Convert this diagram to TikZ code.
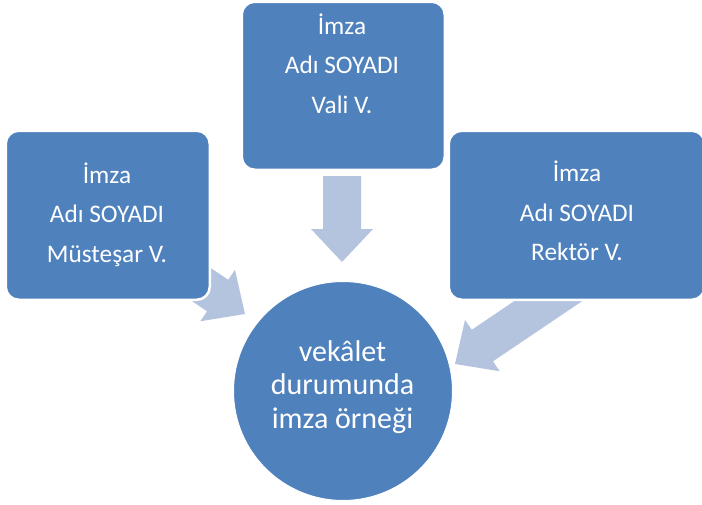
\documentclass[tikz,border=0pt]{standalone}
\usepackage{fontspec}
\setmainfont{Carlito}
\definecolor{boxblue}{HTML}{4F81BD}
\definecolor{arrowblue}{HTML}{B4C3DE}
\tikzset{
  sigbox/.style={fill=boxblue, draw=white, line width=2.5pt, rounded corners=13pt, inner sep=0pt, anchor=north west},
  boxtext/.style={text=white, align=center, font=\fontsize{25.3}{39.5}\selectfont, inner sep=0pt, anchor=base},
  circtext/.style={text=white, align=center, font=\fontsize{30}{33.5}\selectfont, inner sep=0pt, anchor=base},
  blockarrow/.style={fill=arrowblue, draw=none},
}
\newcommand{\blockarrowpath}[1]{(0,0) -- (-33pt,31pt) -- (-33pt,19pt) -- (-#1,19pt) -- (-#1,-19pt) -- (-33pt,-19pt) -- (-33pt,-31pt) -- cycle}
\begin{document}
\begin{tikzpicture}[x=1pt,y=-1pt]
\useasboundingbox (0,0) rectangle (702,504);
% arrow tips
\coordinate (tipD) at (342,262);
\coordinate (tipL) at (245,314);
\coordinate (tipR) at (455,364);
% arrows (under the boxes)
\begin{scope}[shift={(tipD)}, rotate=-90]
  \fill[blockarrow] \blockarrowpath{86pt};
\end{scope}
\begin{scope}[shift={(tipL)}, rotate=-34]
  \fill[blockarrow] \blockarrowpath{90pt};
\end{scope}
\begin{scope}[shift={(tipR)}, rotate=-146]
  \fill[blockarrow] \blockarrowpath{160pt};
\end{scope}
% boxes
\node[sigbox, minimum width=203pt, minimum height=168pt] (topbox) at (240.5,0.5) {};
\node[sigbox, minimum width=204pt, minimum height=169pt] (leftbox) at (4.5,129.5) {};
\node[sigbox, minimum width=256pt, minimum height=169pt] (rightbox) at (447.5,129.5) {};
% circle
\node[circle, fill=boxblue, draw=white, line width=1pt, minimum size=219pt, inner sep=0pt] (center) at (343,391) {};
% texts (anchor = baseline of last line)
\node[boxtext] (toptext) at (342,113) {İmza\\Adı SOYADI\\Vali V.};
\node[boxtext] (lefttext) at (107,262) {İmza\\Adı SOYADI\\Müsteşar V.};
\node[boxtext] (righttext) at (577,260.5) {İmza\\Adı SOYADI\\Rektör V.};
\node[circtext] (centertext) at (342.5,428) {vekâlet\\durumunda\\imza örneği};
\end{tikzpicture}
\end{document}
